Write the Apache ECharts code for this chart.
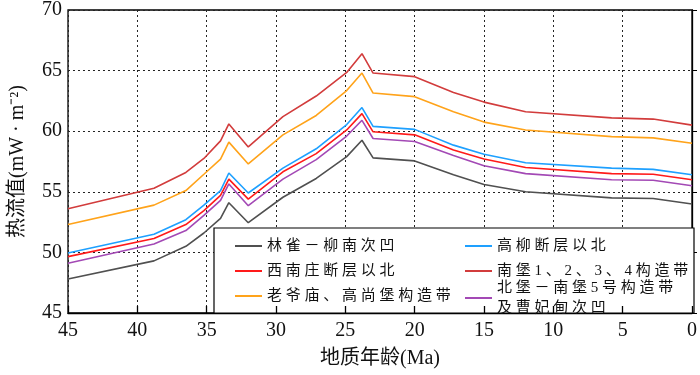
<!DOCTYPE html>
<html>
<head>
<meta charset="utf-8">
<script src="https://cdn.jsdelivr.net/npm/echarts@6/dist/echarts.min.js"></script>
<style>
  html, body { margin: 0; padding: 0; background: #fff; }
  #main { width: 700px; height: 375px; }
</style>
</head>
<body>
<div id="main"></div>
<script>
// ages (Ma) where the curves bend
var ages = [45, 38.8, 36.5, 35.2, 34.0, 33.4, 32.0, 29.5, 27.1, 24.9, 23.8, 23.0, 20.0, 17.2, 15.0, 12.0, 5.8, 2.8, 0];

// heat flow values, mW/m2
var linque = [47.8, 49.3, 50.5, 51.6, 52.8, 54.1, 52.45, 54.55, 56.1, 57.9, 59.25, 57.8, 57.55, 56.4, 55.6, 55.0, 54.5, 54.45, 54.0];
var xinanzhuang = [49.65, 51.15, 52.3, 53.45, 54.7, 56.05, 54.4, 56.65, 58.15, 60.1, 61.45, 59.95, 59.7, 58.45, 57.7, 57.0, 56.5, 56.45, 56.0];
var laoyemiao = [52.3, 53.9, 55.1, 56.45, 57.7, 59.1, 57.3, 59.7, 61.3, 63.35, 64.8, 63.15, 62.85, 61.6, 60.75, 60.1, 59.55, 59.45, 59.0];
var gaoliu = [49.95, 51.5, 52.7, 53.9, 55.1, 56.55, 54.9, 56.95, 58.55, 60.55, 61.95, 60.4, 60.15, 58.85, 58.1, 57.4, 56.95, 56.85, 56.4];
var nanpu1234 = [53.6, 55.3, 56.6, 57.75, 59.2, 60.6, 58.7, 61.2, 62.9, 64.85, 66.4, 64.8, 64.5, 63.2, 62.4, 61.6, 61.1, 61.0, 60.5];
var beipu = [49.1, 50.7, 51.8, 53.05, 54.3, 55.65, 53.85, 56.05, 57.65, 59.6, 60.9, 59.4, 59.15, 58.0, 57.15, 56.5, 56.0, 55.95, 55.5];

var names = ['林雀－柳南次凹', '西南庄断层以北', '老爷庙、高尚堡构造带',
             '高柳断层以北', '南堡1、2、3、4构造带', '北堡－南堡5号构造带\n及曹妃甸次凹'];
var colors = ['#505050', '#ff1a1a', '#ffa31a', '#1ea0ff', '#d23c3c', '#a349b5'];
var values = [linque, xinanzhuang, laoyemiao, gaoliu, nanpu1234, beipu];

var serif = "'Liberation Serif', 'Noto Sans CJK SC', serif";

function pairs(v) {
    return ages.map(function (a, i) { return [a, v[i]]; });
}

// spread the CJK characters a little, like the original figure
function spaced(name) {
    return name.split('\n').map(function (s) {
        return s.split('').join('\u2005');
    }).join('\n');
}

var legendBase = {
    orient: 'vertical',
    icon: 'rect',
    itemWidth: 27,
    itemHeight: 2,
    itemGap: 5,
    formatter: spaced,
    textStyle: { fontSize: 15, lineHeight: 20, color: '#111', fontFamily: serif },
    z: 5
};

var chart = echarts.init(document.getElementById('main'));

var option = {
    backgroundColor: '#fff',
    animation: false,
    grid: {
        left: 64, right: 6, top: 7, bottom: 62,
        show: true, borderColor: '#000', borderWidth: 1.3, backgroundColor: 'transparent'
    },
    graphic: [{
        type: 'rect',
        z: 1,
        shape: { x: 214, y: 228, width: 480, height: 85 },
        style: { fill: '#fff', stroke: '#000', lineWidth: 1.2 }
    }],
    legend: [
        Object.assign({ left: 230, top: 231, data: [names[0], names[1], names[2]] }, legendBase),
        Object.assign({ left: 460, top: 231, data: [names[3], names[4]] }, legendBase),
        Object.assign({ left: 460, top: 273, data: [names[5]] }, legendBase)
    ],
    xAxis: [{
        type: 'value',
        inverse: true,
        min: 0, max: 45, interval: 5,
        name: '地质年龄(Ma)',
        nameLocation: 'middle',
        nameGap: 36,
        nameTextStyle: { fontSize: 20, color: '#111', fontFamily: serif },
        axisLine: { lineStyle: { color: '#000', width: 1.3 } },
        axisTick: { show: false },
        axisLabel: { fontSize: 20, color: '#111', margin: 8, fontFamily: serif },
        splitLine: { show: true, lineStyle: { color: '#222', type: [2, 3], width: 1 } }
    }, {
        // tick marks only, drawn over the legend box
        type: 'value',
        position: 'bottom',
        inverse: true,
        min: 0, max: 45, interval: 5,
        z: 6,
        axisLine: { show: false },
        axisTick: { show: true, inside: true, length: 7, lineStyle: { color: '#000', width: 1.3 } },
        axisLabel: { show: false },
        splitLine: { show: false }
    }],
    yAxis: {
        type: 'value',
        min: 45, max: 70, interval: 5,
        name: '热流值(mW · m⁻²)',
        nameLocation: 'middle',
        nameGap: 40,
        nameTextStyle: { fontSize: 20, color: '#111', fontFamily: serif },
        axisLine: { show: true, lineStyle: { color: '#000', width: 1.3 } },
        axisTick: { show: true, inside: true, length: 5, lineStyle: { color: '#000' } },
        axisLabel: { fontSize: 20, color: '#111', margin: 6, fontFamily: serif },
        splitLine: { show: true, lineStyle: { color: '#222', type: [2, 3], width: 1 } }
    },
    series: names.map(function (n, i) {
        return {
            name: n,
            type: 'line',
            symbol: 'none',
            color: colors[i],
            lineStyle: { width: 1.6, color: colors[i] },
            z: 3,
            data: pairs(values[i])
        };
    })
};

chart.setOption(option);
</script>
</body>
</html>
